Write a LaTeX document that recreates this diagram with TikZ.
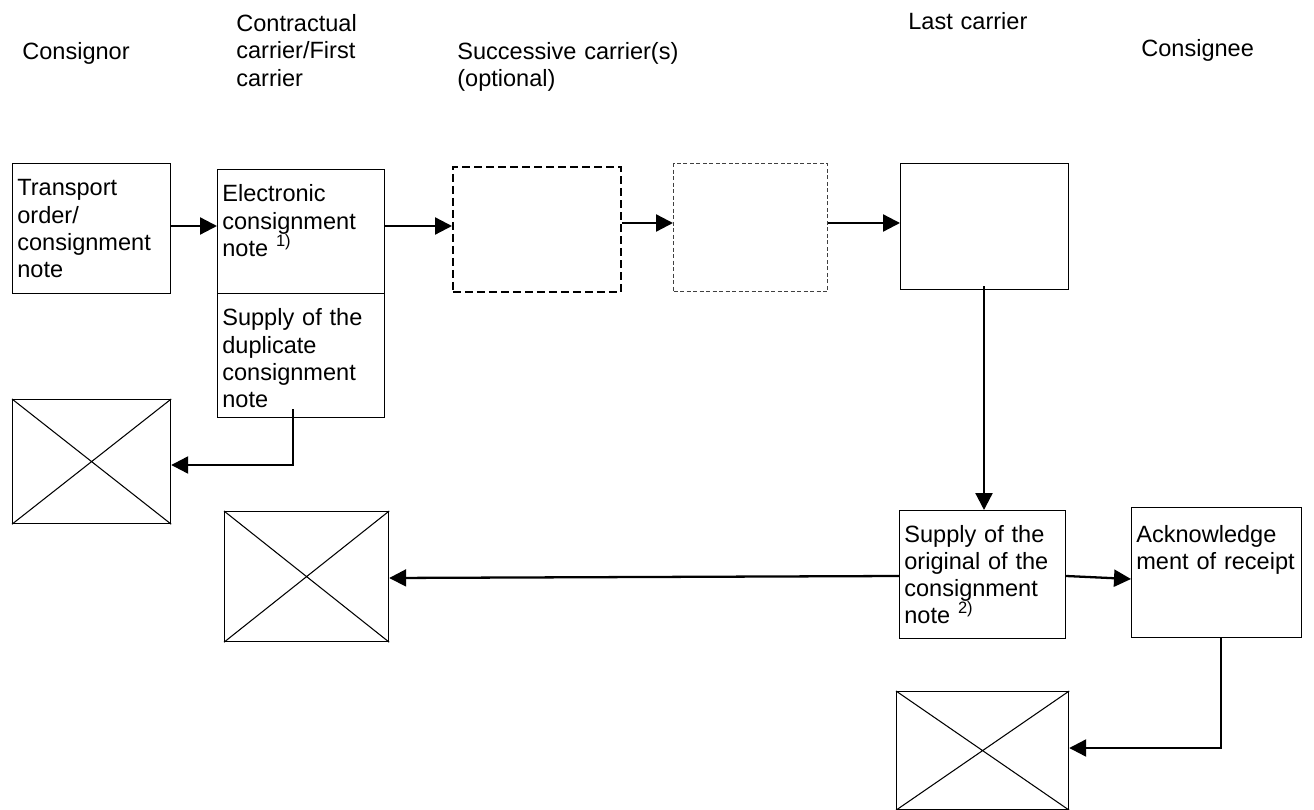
\documentclass[tikz,border=0pt]{standalone}
\usepackage{fontspec}
\setmainfont{Liberation Sans}
\usetikzlibrary{arrows.meta,calc}

\begin{document}
\begin{tikzpicture}[x=0.02cm,y=-0.02cm]
    \tikzset{
        box/.style 2 args={draw, line width=0.7pt, anchor=north west, inner sep=0pt, minimum width=#1, minimum height=#2},
        txt/.style={anchor=base west, inner sep=0pt, align=left, text width=5cm, font=\fontsize{13.4}{15.37}\selectfont},
        arr/.style={-{Triangle[length=0.34cm,width=0.34cm]}, line width=1.3pt},
        dashA/.style={line width=1.1pt, dash pattern=on 0.16cm off 0.08cm},
        dashB/.style={line width=0.75pt, draw=black!75, dash pattern=on 0.08cm off 0.05cm}
    }
    \useasboundingbox (0,0) rectangle (1314,810);
    % column heads
    \node[txt] (hConsignor) at (22,60) {Consignor};
    \node[txt] (hFirst) at (236,32) {Contractual\\carrier/First\\carrier};
    \node[txt] (hSucc) at (457,60) {Successive carrier(s)\\(optional)};
    \node[txt] (hLast) at (908,30) {Last carrier};
    \node[txt] (hConsignee) at (1141,57) {Consignee};
    % boxes
    \node[box={3.16cm}{2.6cm}] (order) at (12,163) {};
    \node[box={3.34cm}{2.48cm}] (ecn) at (217,169) {};
    \node[box={3.34cm}{2.48cm}] (dup) at (217,293) {};
    \node[box={3.36cm}{2.5cm}, dashA] (succ1) at (452,166) {};
    \node[box={3.08cm}{2.56cm}, dashB] (succ2) at (673,163) {};
    \node[box={3.36cm}{2.52cm}] (last) at (900,163) {};
    \node[box={3.32cm}{2.56cm}] (orig) at (899,510) {};
    \node[box={3.4cm}{2.6cm}] (ack) at (1131,507) {};
    \node[box={3.16cm}{2.48cm}] (xbox1) at (12,399) {};
    \node[box={3.28cm}{2.6cm}] (xbox2) at (224,511) {};
    \node[box={3.44cm}{2.36cm}] (xbox3) at (896,691) {};
    \foreach \c in {xbox1,xbox2,xbox3}
        \draw[line width=0.6pt] (\c.north west) -- (\c.south east) (\c.south west) -- (\c.north east);
    % box texts
    \node[txt, text width=3.1cm] (order-t) at (17,196) {Transport\\order/\\consignment\\note};
    \node[txt, text width=3.2cm] (ecn-t) at (222,202) {Electronic\\consignment\\note \textsuperscript{1)}};
    \node[txt, text width=3.2cm] (dup-t) at (222,326) {Supply of the\\duplicate\\consignment\\note};
    \node[txt, text width=3.2cm] (orig-t) at (904,542) {Supply of the\\original of the\\consignment\\note \textsuperscript{2)}};
    \node[txt, text width=3.3cm] (ack-t) at (1136,542) {Acknowledge\\ment of receipt};
    % connectors
    \draw[arr] (order.east |- 0,226) -- (ecn.west |- 0,226);
    \draw[arr] (ecn.east |- 0,226) -- (succ1.west |- 0,226);
    \draw[arr] (succ1.east |- 0,223) -- (succ2.west |- 0,223);
    \draw[arr] (succ2.east |- 0,223) -- (last.west |- 0,223);
    \draw[arr] ($(last.south -| 984,0)+(0,-4)$) -- (orig.north -| 984,0);
    \draw[arr] ($(dup.south -| 293,0)+(0,-9)$) |- (xbox1.east |- 0,465);
    \draw[arr] (orig.west |- 0,576) -- (xbox2.east |- 0,578);
    \draw[arr] (orig.east |- 0,576) -- (ack.west |- 0,579);
    \draw[arr] (ack.south -| 1221,0) |- (xbox3.east |- 0,748);
\end{tikzpicture}
\end{document}
